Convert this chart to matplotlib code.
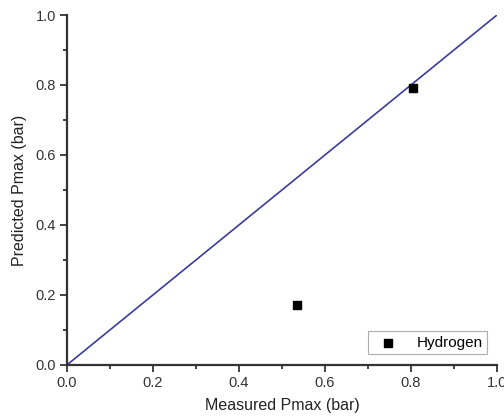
import matplotlib.pyplot as plt
from matplotlib.ticker import MultipleLocator

plt.rcParams['font.family'] = ['Liberation Sans', 'DejaVu Sans']

# measured vs predicted maximum pressure
measured = [0.805, 0.535]
predicted = [0.79, 0.17]
parity = [0.0, 1.0]

fig = plt.figure(figsize=(5.04, 4.17), dpi=100)
ax = fig.add_axes([0.133, 0.125, 0.853, 0.839])

ax.plot(parity, parity, color='#3b3b9c', lw=1.2)
ax.scatter(measured, predicted, marker='s', s=26, color='black', label='Hydrogen', zorder=3)

ax.set_xlim(0, 1.0)
ax.set_ylim(0, 1.0)
ax.xaxis.set_major_locator(MultipleLocator(0.2))
ax.yaxis.set_major_locator(MultipleLocator(0.2))
ax.xaxis.set_minor_locator(MultipleLocator(0.1))
ax.yaxis.set_minor_locator(MultipleLocator(0.1))
ax.tick_params(which='major', direction='out', length=5, width=1.3, labelsize=10.5,
               colors='#333333', pad=3)
ax.tick_params(which='minor', direction='out', length=3, width=1.3, colors='#333333')

for side in ['top', 'right']:
    ax.spines[side].set_visible(False)
for side in ['left', 'bottom']:
    ax.spines[side].set_linewidth(1.6)
    ax.spines[side].set_color('#333333')

ax.set_xlabel('Measured Pmax (bar)', fontsize=11.5, color='#222222', labelpad=6)
ax.set_ylabel('Predicted Pmax (bar)', fontsize=11.5, color='#222222', labelpad=6)

leg = ax.legend(loc='lower right', fontsize=11, fancybox=False, borderpad=0.3,
                handletextpad=0.9, borderaxespad=0.0, bbox_to_anchor=(0.978, 0.03))
leg.get_frame().set_edgecolor('#999999')
leg.get_frame().set_linewidth(0.8)

fig.savefig('out.png', dpi=100)
